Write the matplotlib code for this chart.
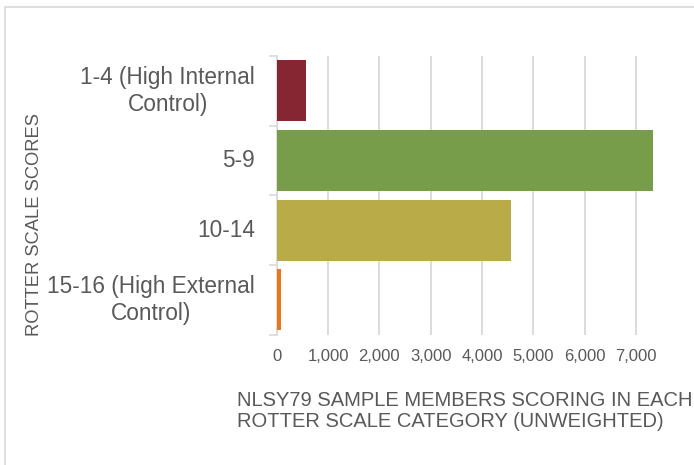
import matplotlib.pyplot as plt
from matplotlib.patches import Rectangle

plt.rcParams['font.family'] = ['Liberation Sans', 'DejaVu Sans']

# Data
categories = ["1-4 (High Internal\nControl)", "5-9", "10-14", "15-16 (High External\nControl)"]
counts = [565, 7330, 4560, 85]
colors = ["#862633", "#789d4a", "#b9ac48", "#e87722"]
xticks = [0, 1000, 2000, 3000, 4000, 5000, 6000, 7000]

text_col = "#595959"

fig = plt.figure(figsize=(6.94, 4.65), dpi=100)
# outer chart border
fig.patches.append(Rectangle((5 / 694, -0.1), 1.2, 1 - 7 / 465 + 0.1,
                             transform=fig.transFigure, fill=False,
                             edgecolor="#d9d9d9", linewidth=1.2))

ax = fig.add_axes([276.7 / 694, 1 - 334.7 / 465, (672 - 276.7) / 694, (334.7 - 56) / 465])

pos = list(range(len(categories)))
ax.barh(pos, counts, height=0.875, color=colors, zorder=3)
ax.set_ylim(len(categories) - 0.5, -0.5)
ax.set_xlim(0, 7700)

ax.set_xticks(xticks)
ax.set_xticklabels([f"{v:,}" for v in xticks], color=text_col, fontsize=12)
ax.tick_params(axis="x", length=0, pad=10)
ax.grid(axis="x", color="#d9d9d9", linewidth=1.3, zorder=0)

# y ticks at category boundaries, labels at category centres
ax.set_yticks([p - 0.5 for p in pos] + [pos[-1] + 0.5])
ax.set_yticklabels([])
ax.tick_params(axis="y", length=6, color="#d9d9d9", width=1.2)
for p, lab in zip(pos, categories):
    ax.text(-0.055, p, lab, transform=ax.get_yaxis_transform(), ha="right", va="center",
            multialignment="center", fontsize=16.3, color=text_col)

for s in ["top", "right", "bottom"]:
    ax.spines[s].set_visible(False)
ax.spines["left"].set_color("#d9d9d9")
ax.spines["left"].set_linewidth(1.2)

fig.text(35 / 694, 1 - 225 / 465, "ROTTER SCALE SCORES", rotation=90, ha="center", va="center",
         fontsize=13.2, color=text_col)
fig.text(237 / 694, 1 - 411 / 465,
         "NLSY79 SAMPLE MEMBERS SCORING IN EACH\nROTTER SCALE CATEGORY (UNWEIGHTED)",
         ha="left", va="center", fontsize=14.5, color=text_col, linespacing=1.1)

fig.savefig("out.png", dpi=100)
